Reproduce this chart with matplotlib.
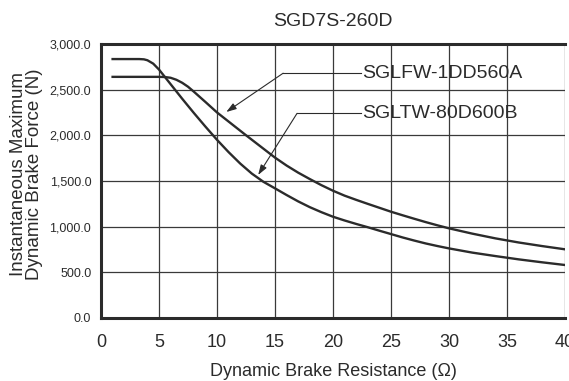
import matplotlib.pyplot as plt
from matplotlib import font_manager

plt.rcParams['font.family'] = ['Liberation Sans', 'DejaVu Sans']

# Data
title = 'SGD7S-260D'
x_ticks = [0, 5, 10, 15, 20, 25, 30, 35, 40]
y_ticks = [0, 500, 1000, 1500, 2000, 2500, 3000]
y_tick_labels = ['0.0', '500.0', '1,000.0', '1,500.0', '2,000.0', '2,500.0', '3,000.0']

# SGLFW-1DD560A
r_fw = [1, 5.0, 5.5, 6.0, 6.5, 7.0, 7.5, 8.0, 9, 10, 12.5, 15, 16, 17, 18, 19, 20,
        21, 22, 23, 24, 25, 26, 27, 28, 29, 30, 32, 34, 36, 38, 40]
f_fw = [2640, 2640, 2638, 2630, 2608, 2575, 2532, 2478, 2365, 2250, 2000, 1755, 1668,
        1590, 1520, 1453, 1392, 1338, 1292, 1248, 1205, 1162, 1123, 1085, 1048, 1013,
        980, 922, 870, 825, 786, 750]
# SGLTW-80D600B
r_tw = [1, 3.3, 3.7, 4.0, 4.5, 5.0, 5.5, 6.0, 7, 8, 9, 10, 11, 12, 13, 14, 15, 16,
        17, 18, 19, 20, 21, 22, 23, 24, 25, 26, 27, 28, 29, 30, 32, 34, 36, 38, 40]
f_tw = [2835, 2835, 2832, 2822, 2785, 2720, 2640, 2560, 2400, 2245, 2095, 1950, 1815,
        1690, 1580, 1490, 1418, 1345, 1275, 1212, 1157, 1107, 1066, 1028, 992, 954,
        917, 880, 846, 814, 786, 760, 714, 676, 640, 608, 578]

labels = ['SGLFW-1DD560A', 'SGLTW-80D600B']
# annotation anchors: (arrow tip, elbow, text start) in data units
ann = [((10.8, 2255), (15.7, 2680), (22.4, 2680)),
       ((13.55, 1565), (16.9, 2240), (22.4, 2240))]

ink = '#2b2b2b'

installed = {f.name for f in font_manager.fontManager.ttflist}
if 'Liberation Sans Narrow' in installed:
    ytick_font, ytick_size = ['Liberation Sans Narrow', 'Liberation Sans'], 11
else:
    ytick_font, ytick_size = ['Liberation Sans', 'DejaVu Sans'], 9

fig = plt.figure(figsize=(5.69, 3.81), dpi=100)
ax = fig.add_axes([0.1775, 0.166, 0.8155, 0.7185])

ax.plot(r_fw, f_fw, color=ink, lw=1.7, zorder=3)
ax.plot(r_tw, f_tw, color=ink, lw=1.7, zorder=3)

for lab, (tip, elbow, txt) in zip(labels, ann):
    ax.plot([elbow[0], txt[0]], [elbow[1], txt[1]], color=ink, lw=0.8, zorder=3)
    ax.annotate('', xy=tip, xytext=elbow,
                arrowprops=dict(arrowstyle='-|>,head_length=0.6,head_width=0.2',
                                color=ink, lw=0.8, shrinkA=0, shrinkB=0))
    ax.text(txt[0] + 0.15, txt[1], lab, fontsize=14, color=ink, va='center', ha='left')

ax.set_xlim(0, 40)
ax.set_ylim(0, 3000)
ax.set_xticks(x_ticks)
ax.set_yticks(y_ticks)
ax.set_yticklabels(y_tick_labels, family=ytick_font)
ax.tick_params(axis='x', length=0, pad=12, labelsize=13, labelcolor=ink)
ax.tick_params(axis='y', length=0, pad=7, labelsize=ytick_size, labelcolor=ink)

ax.grid(True, color='#3a3a3a', lw=0.9)
ax.set_axisbelow(True)
for s in ['left', 'bottom', 'top']:
    ax.spines[s].set_linewidth(2.2)
    ax.spines[s].set_color(ink)
ax.spines['right'].set_visible(False)

ax.set_title(title, fontsize=14, color=ink, pad=13)
ax.set_xlabel('Dynamic Brake Resistance (\u03a9)', fontsize=13, color=ink, labelpad=8)
ax.set_ylabel('Instantaneous Maximum\nDynamic Brake Force (N)', fontsize=13.5,
              color=ink, linespacing=0.95)
ax.yaxis.set_label_coords(-0.125, 0.525)

fig.savefig('out.png', dpi=100)
